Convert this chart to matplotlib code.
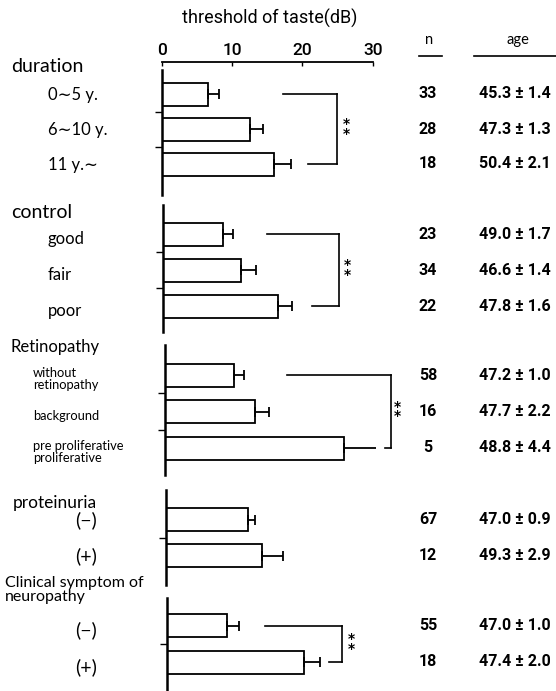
import matplotlib
matplotlib.use("Agg")
import matplotlib.pyplot as plt
from matplotlib.transforms import blended_transform_factory

W, H = 556, 691

# ---- data (threshold of taste, dB: mean and one-sided error) ----
duration_labels = ["0∼5 y.", "6∼10 y.", "11 y.∼"]
duration_mean = [6.6, 12.5, 16.0]
duration_err = [1.55, 1.9, 2.4]
duration_n = [33, 28, 18]
duration_age = ["45.3±1.4", "47.3±1.3", "50.4±2.1"]

control_labels = ["good", "fair", "poor"]
control_mean = [8.6, 11.2, 16.4]
control_err = [1.4, 2.0, 2.0]
control_n = [23, 34, 22]
control_age = ["49.0±1.7", "46.6±1.4", "47.8±1.6"]

retino_labels = ["without\nretinopathy", "background", "pre proliferative\nproliferative"]
retino_mean = [9.8, 12.8, 25.5]
retino_err = [1.4, 2.0, 5.0]
retino_n = [58, 16, 5]
retino_age = ["47.2±1.0", "47.7±2.2", "48.8±4.4"]

protein_labels = ["(−)", "(+)"]
protein_mean = [11.6, 13.6]
protein_err = [1.0, 3.1]
protein_n = [67, 12]
protein_age = ["47.0±0.9", "49.3±2.9"]

neuro_labels = ["(−)", "(+)"]
neuro_mean = [8.5, 19.4]
neuro_err = [1.7, 2.3]
neuro_n = [55, 18]
neuro_age = ["47.0±1.0", "47.4±2.0"]

xticks = [0, 10, 20, 30]

# ---- layout (pixels in the 556x691 frame) ----
PX_PER_UNIT = 7.033
NUM_FONT = ["Roboto", "DejaVu Sans"]
LBL_FONT = ["Lato", "DejaVu Sans"]

panels = [
    # zero/top/bottom/first/spacing in px; lx, ldy = label x and shift in px;
    # br = bracket (top start, bottom start, vertical, stars) in data units
    dict(title="duration", tpos=(11, 67), tsize=14, labels=duration_labels,
         mean=duration_mean, err=duration_err, n=duration_n, age=duration_age,
         zero=161.7, top=70, bottom=195, first=94, sp=35.0, lx=48, ldy=1, lsize=12,
         br=(17.2, 20.8, 24.9, 26.3)),
    dict(title="control", tpos=(11, 212), tsize=14, labels=control_labels,
         mean=control_mean, err=control_err, n=control_n, age=control_age,
         zero=162.7, top=205, bottom=332, first=234, sp=36.0, lx=48, ldy=5, lsize=12,
         br=(14.9, 21.2, 25.1, 26.2)),
    dict(title="Retinopathy", tpos=(11, 347), tsize=12, labels=retino_labels,
         mean=retino_mean, err=retino_err, n=retino_n, age=retino_age,
         zero=165.0, top=345, bottom=475, first=375, sp=36.5, lx=33, ldy=4, lsize=9.3,
         br=(17.3, 31.3, 32.1, 33.1)),
    dict(title="proteinuria", tpos=(13, 503), tsize=12.5, labels=protein_labels,
         mean=protein_mean, err=protein_err, n=protein_n, age=protein_age,
         zero=166.0, top=490, bottom=585, first=519.5, sp=36.0, lx=75, ldy=1, lsize=14,
         br=None),
    dict(title="Clinical symptom of\nneuropathy", tpos=(5, 590), tsize=11.5,
         labels=neuro_labels, mean=neuro_mean, err=neuro_err, n=neuro_n, age=neuro_age,
         zero=167.3, top=598, bottom=691, first=625.5, sp=36.5, lx=75, ldy=5, lsize=14,
         br=(13.9, 23.0, 24.8, 26.1)),
]

fig = plt.figure(figsize=(W / 100, H / 100), dpi=100)


def fx(px):
    return px / W


def fy(py):
    return 1 - py / H


for k, p in enumerate(panels):
    nbar = len(p["mean"])
    ax = fig.add_axes([fx(p["zero"]), fy(p["bottom"]), 30 * PX_PER_UNIT / W,
                       (p["bottom"] - p["top"]) / H])
    ax.set_xlim(0, 30)
    ax.set_ylim((p["bottom"] - p["first"]) / p["sp"], (p["top"] - p["first"]) / p["sp"])
    ax.patch.set_alpha(0)
    rows = list(range(nbar))
    ax.barh(rows, p["mean"], height=23 / p["sp"], color="white", edgecolor="black",
            linewidth=1.3, zorder=2)
    ax.errorbar(p["mean"], rows, xerr=[[0] * nbar, p["err"]], fmt="none", ecolor="black",
                elinewidth=1.3, capsize=3.6, capthick=1.3, zorder=3)

    for s in ("right", "bottom"):
        ax.spines[s].set_visible(False)
    ax.spines["left"].set_linewidth(1.8)
    ax.set_yticks([i + 0.5 for i in range(nbar - 1)])
    ax.set_yticklabels([])
    ax.tick_params(axis="y", direction="out", length=5, width=1.0)

    if k == 0:
        ax.xaxis.tick_top()
        ax.spines["top"].set_position(("outward", 5.8))
        ax.spines["top"].set_linewidth(1.3)
        ax.set_xticks(xticks)
        ax.set_xticklabels([str(t) for t in xticks], fontsize=12.5, family=NUM_FONT,
                           fontweight="medium")
        ax.tick_params(axis="x", direction="in", length=3, width=1.0, pad=3)
    else:
        ax.spines["top"].set_visible(False)
        ax.set_xticks([])

    # significance bracket
    if p["br"] is not None:
        x_top, x_bot, x_v, x_s = p["br"]
        last = nbar - 1
        kw = dict(color="black", lw=1.2, clip_on=False)
        ax.plot([x_top, x_v], [0, 0], **kw)
        ax.plot([x_v, x_v], [0, last], **kw)
        ax.plot([x_bot, x_v], [last, last], **kw)
        ax.text(x_s, last / 2, "*\n*", ha="center", va="center", fontsize=10,
                fontweight="bold", linespacing=0.6, clip_on=False)

    # row labels, n and age columns
    tr = blended_transform_factory(fig.transFigure, ax.transData)
    for i in rows:
        ax.text(fx(p["lx"]), i + p["ldy"] / p["sp"], p["labels"][i], transform=tr,
                ha="left", va="center", fontsize=p["lsize"], family=LBL_FONT,
                linespacing=1.0)
        ax.text(fx(428), i, str(p["n"][i]), transform=tr, ha="center", va="center",
                fontsize=11.5, fontweight="bold", family=NUM_FONT)
        ax.text(fx(515), i, p["age"][i].replace("±", " ± "), transform=tr, ha="center",
                va="center", fontsize=11.5, fontweight="bold", family=NUM_FONT)

    fig.text(fx(p["tpos"][0]), fy(p["tpos"][1]), p["title"], ha="left", va="center",
             fontsize=p["tsize"], family=LBL_FONT, linespacing=1.0)

# headers
fig.text(fx(270), fy(18), "threshold of taste(dB)", ha="center", va="center",
         fontsize=13, family=NUM_FONT)
fig.text(fx(429), fy(40), "n", ha="center", va="center", fontsize=10.5, family=LBL_FONT)
fig.text(fx(518), fy(40), "age", ha="center", va="center", fontsize=10.5, family=LBL_FONT)
fig.add_artist(plt.Line2D([fx(419), fx(442)], [fy(56), fy(56)], color="black", lw=1.2))
fig.add_artist(plt.Line2D([fx(474), fx(556)], [fy(56), fy(56)], color="black", lw=1.2))

fig.savefig("out.png", dpi=100, facecolor="white")
